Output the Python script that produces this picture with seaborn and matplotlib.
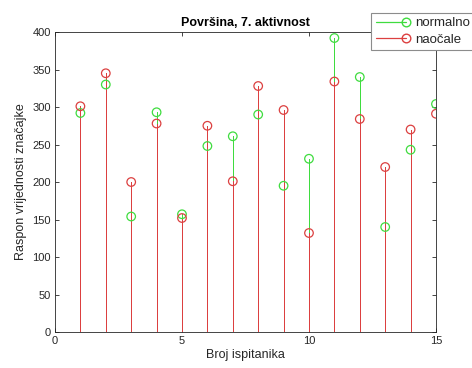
import numpy as np
import pandas as pd
import matplotlib
matplotlib.use("Agg")
import matplotlib.pyplot as plt
from matplotlib.lines import Line2D
from matplotlib.legend_handler import HandlerBase
import seaborn as sns

# Subject numbers and feature ranges for the two conditions
ispitanici = list(range(1, 16))
normalno = [292, 330, 154, 293, 157, 248, 261, 290, 195, 231, 392, 340, 140, 243, 304]
naocale = [301, 345, 200, 278, 152, 275, 201, 328, 296, 132, 334, 284, 220, 270, 291]

x_ticks = [0, 5, 10, 15]
y_ticks = list(range(0, 401, 50))

GREEN = "#3fdc3f"
RED = "#dc4040"
AXIS = "#262626"

sns.set_style("white")
plt.rcParams["font.family"] = ["Liberation Sans", "DejaVu Sans"]

df = pd.DataFrame({"ispitanik": ispitanici, "normalno": normalno, "naocale": naocale})


class StemHandler(HandlerBase):
    """Legend entry drawn as a stem: a line with the marker at its right end."""

    def create_artists(self, legend, orig_handle, xdescent, ydescent,
                       width, height, fontsize, trans):
        x0, x1 = -xdescent, width - xdescent
        y = (height - ydescent) / 2
        line = Line2D([x0, x1], [y, y])
        self.update_prop(line, orig_handle, legend)
        line.set_marker("None")
        line.set_transform(trans)
        marker = Line2D([x1], [y])
        self.update_prop(marker, orig_handle, legend)
        marker.set_linestyle("None")
        marker.set_markevery(None)
        marker.set_transform(trans)
        return [line, marker]


fig = plt.figure(figsize=(4.72, 3.68), dpi=100)
ax = fig.add_axes([0.1165, 0.0978, 0.8072, 0.8152])

# Stems: green series first, red drawn over it (one device pixel wide)
for col, color in (("normalno", GREEN), ("naocale", RED)):
    ax.vlines(df["ispitanik"], 0, df[col], color=color, linewidth=0.72,
              antialiased=False, zorder=2)
    sns.scatterplot(data=df, x="ispitanik", y=col, ax=ax, marker="o",
                    s=38, facecolors="none", edgecolor=color, linewidth=0.9,
                    zorder=3, legend=False)

ax.set_xlim(0, 15)
ax.set_ylim(0, 400)
ax.set_xticks(x_ticks)
ax.set_yticks(y_ticks)
ax.tick_params(direction="in", length=3, width=0.6, colors=AXIS, labelsize=8,
               top=True, right=True, bottom=True, left=True,
               labeltop=False, labelright=False, pad=3)
for s in ax.spines.values():
    s.set_visible(True)
    s.set_color(AXIS)
    s.set_linewidth(0.6)

ax.set_xlabel("Broj ispitanika", fontsize=9, color=AXIS, labelpad=2)
ax.set_ylabel("Raspon vrijednosti značajke", fontsize=9, color=AXIS, labelpad=4)
ax.set_title("Površina, 7. aktivnost", fontsize=9, fontweight="bold", color="black", pad=4)

handles = [
    Line2D([], [], color=GREEN, linewidth=0.9, marker="o", markersize=6.2,
           markerfacecolor="none", markeredgecolor=GREEN),
    Line2D([], [], color=RED, linewidth=0.9, marker="o", markersize=6.2,
           markerfacecolor="none", markeredgecolor=RED),
]
leg = fig.legend(handles, ["normalno", "naočale"], loc="upper left",
                 bbox_to_anchor=(0.786, 0.966), bbox_transform=fig.transFigure,
                 handler_map={Line2D: StemHandler()},
                 fontsize=9.5, frameon=True, fancybox=False,
                 framealpha=1, edgecolor="#8c8c8c", handlelength=2.3,
                 handletextpad=0.7, borderpad=0.35, labelspacing=0.3,
                 borderaxespad=0)
leg.get_frame().set_linewidth(0.8)

fig.savefig("out.png", dpi=100)
